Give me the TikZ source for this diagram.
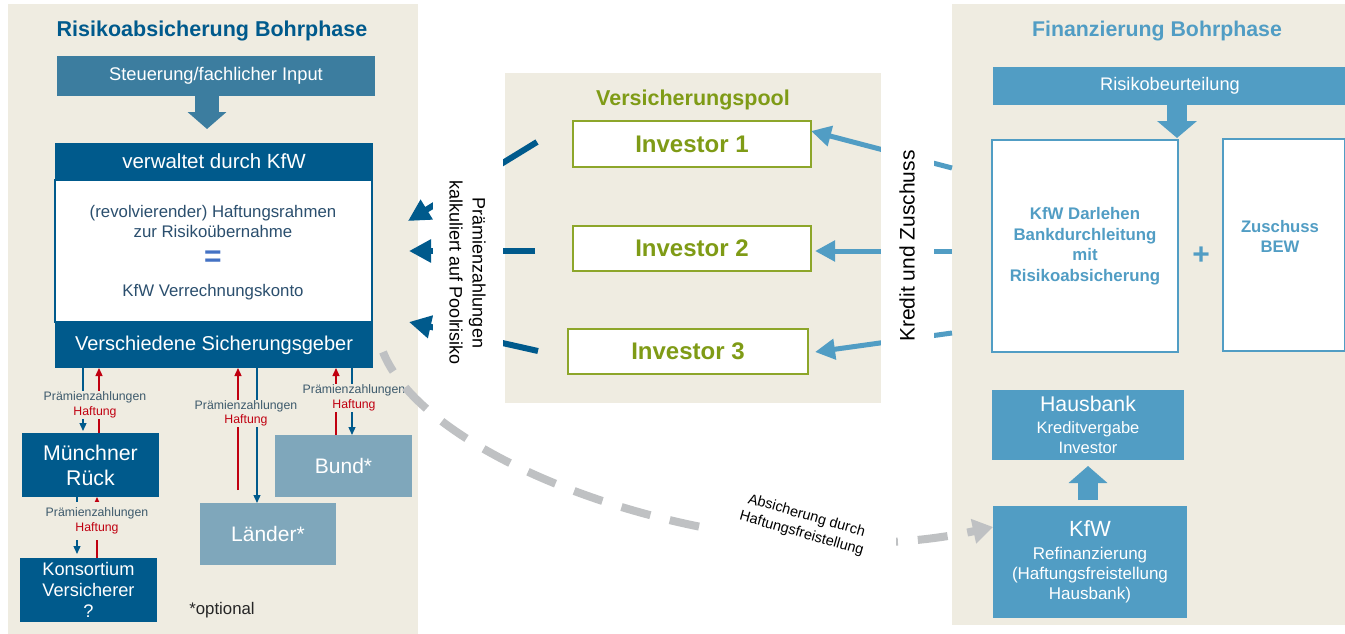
\documentclass[tikz,border=0pt]{standalone}
\usepackage{fontspec}
\setmainfont{Liberation Sans}
\usetikzlibrary{arrows.meta}
\definecolor{bg}{HTML}{EFECE1}
\definecolor{dblue}{HTML}{005A8C}
\definecolor{steel}{HTML}{3C7D9F}
\definecolor{gblue}{HTML}{7FA7BB}
\definecolor{lblue}{HTML}{519DC4}
\definecolor{pgreen}{HTML}{7F9B16}
\definecolor{pborder}{HTML}{8DA62A}
\definecolor{btext}{HTML}{2B4F6E}
\definecolor{eqblue}{HTML}{4472C4}
\definecolor{ptext}{HTML}{3D5A6C}
\definecolor{hred}{HTML}{C00010}
\definecolor{dgray}{HTML}{BFC1C3}
\newcommand\fsz[2]{\fontsize{#1}{#2}\selectfont}
\tikzset{
  box/.style={rectangle, inner sep=0pt, outer sep=0pt, anchor=center},
  dbox/.style={box, fill=dblue, text=white},
  gbox/.style={box, fill=gblue, text=white},
  lbox/.style={box, fill=lblue, text=white},
  invbox/.style={box, fill=white, draw=pborder, line width=1.5pt, text=pgreen, font=\fsz{24}{28}\bfseries},
  ba/.style={draw=dblue, line width=1.3pt, -{Triangle[length=8pt,width=7pt]}},
  ra/.style={draw=hred, line width=1.3pt, -{Triangle[length=8pt,width=7pt]}},
  plbl/.style={fill=bg, inner sep=1pt, align=center, font=\fsz{12.3}{14.5}},
  poolarr/.style={draw=dblue, line width=6pt, -{Triangle[length=22pt,width=22pt]}},
  finarr/.style={draw=lblue, line width=5pt, -{Triangle[length=20pt,width=20pt]}},
}
\begin{document}
\begin{tikzpicture}[x=1pt,y=-1pt]
\useasboundingbox (0,0) rectangle (1345,634);
\fill[white] (0,0) rectangle (1345,634);
% panels
\fill[bg] (8,4) rectangle (418,634);
\fill[bg] (505,73) rectangle (881,403);
\fill[bg] (952,4) rectangle (1345,625);

% ---------- left panel
\node[text=dblue, font=\fsz{21.5}{25}\bfseries] (ltitle) at (212,31) {Risikoabsicherung Bohrphase};
\node[box, fill=steel, text=white, minimum width=318pt, minimum height=40pt, font=\fsz{18.3}{21}] (steu) at (216,76) {Steuerung/fachlicher Input};
\node[box, fill=white, draw=dblue, line width=1.5pt, minimum width=317pt, minimum height=142pt] (kfwbody) at (213.5,251) {};
\node[dbox, minimum width=318pt, minimum height=37pt, font=\fsz{20.5}{24}] (kfwhead) at (214,161.5) {verwaltet durch KfW};
\node[dbox, minimum width=318pt, minimum height=46pt, font=\fsz{20}{24}] (sg) at (214,345) {Verschiedene Sicherungsgeber};
\draw[steel, line width=24pt, -{Triangle[length=17pt,width=38pt]}, shorten >=14pt] (steu.south -| 207,0) -- (kfwhead.north -| 207,0);
\node[text=btext, align=center, font=\fsz{16.8}{19.5}] (haft) at (213,221.5) {(revolvierender) Haftungsrahmen\\zur Risikoübernahme};
\node[text=eqblue, font=\fsz{30}{32}\bfseries] (eq) at (213,259) {=};
\node[text=btext, font=\fsz{16.8}{19}] (konto) at (213,292) {KfW Verrechnungskonto};

\node[dbox, minimum width=137pt, minimum height=64pt, align=center, font=\fsz{21.3}{25}] (mr) at (90.5,465) {Münchner\\Rück};
\node[dbox, minimum width=137pt, minimum height=64pt, align=center, font=\fsz{18.2}{21}] (kons) at (88.5,590) {Konsortium\\Versicherer\\?};
\node[gbox, minimum width=136pt, minimum height=62pt, font=\fsz{21}{24}] (laender) at (268,534) {Länder*};
\node[gbox, minimum width=137pt, minimum height=62pt, font=\fsz{21}{24}] (bund) at (343.5,466) {Bund*};
\node[font=\fsz{16.8}{19}, text=black!85] (opt) at (222,610) {*optional};

\draw[ba, shorten >=2pt] (sg.south -| 83,0) -- (mr.north -| 83,0);
\draw[ra] (mr.north -| 99,0) -- (sg.south -| 99,0);
\draw[ba, shorten >=4pt] (mr.south -| 77,0) -- (kons.north -| 77,0);
\draw[ra] (kons.north -| 97,0) -- (mr.south -| 97,0);
\draw[ba] (sg.south -| 257,0) -- (laender.north -| 257,0);
\draw[ra, shorten <=13pt] (laender.north -| 238,0) -- (sg.south -| 238,0);
\draw[ba] (sg.south -| 352,0) -- (bund.north -| 352,0);
\draw[ra] (bund.north -| 336,0) -- (sg.south -| 336,0);

\node[plbl] (l1) at (95,405) {\textcolor{ptext}{Prämienzahlungen}\\\textcolor{hred}{Haftung}};
\node[plbl, minimum height=38pt] (l2) at (97,521) {\textcolor{ptext}{Prämienzahlungen}\\\textcolor{hred}{Haftung}};
\node[plbl] (l3) at (246,413.5) {\textcolor{ptext}{Prämienzahlungen}\\\textcolor{hred}{Haftung}};
\node[plbl] (l4) at (354,398) {\textcolor{ptext}{Prämienzahlungen}\\\textcolor{hred}{Haftung}};

% ---------- pool
\node[text=pgreen, font=\fsz{21.5}{25}\bfseries] (ptitle) at (693,100) {Versicherungspool};
\node[invbox, minimum width=238pt, minimum height=46pt] (inv1) at (692,144) {Investor 1};
\node[invbox, minimum width=238pt, minimum height=45pt] (inv2) at (692,248.5) {Investor 2};
\node[invbox, minimum width=240pt, minimum height=45pt] (inv3) at (688,351.5) {Investor 3};

\coordinate (p1s) at (537,142); \coordinate (p1e) at (408,221);
\coordinate (p2s) at (535,251); \coordinate (p2e) at (409,251);
\coordinate (p3s) at (538,351); \coordinate (p3e) at (409,322);
\draw[poolarr] (p1s) -- (p1e);
\draw[poolarr] (p2s) -- (p2e);
\draw[poolarr] (p3s) -- (p3e);
\node[box, fill=white, rotate=-90, minimum width=240pt, minimum height=70pt, align=center, font=\fsz{18}{23}] (pzlbl) at (467.5,273) {Prämienzahlungen\\kalkuliert auf Poolrisiko};

% ---------- right panel
\node[text=lblue, font=\fsz{21.3}{25}\bfseries] (rtitle) at (1157,31) {Finanzierung Bohrphase};
\node[lbox, minimum width=352pt, minimum height=38pt] (risk) at (1169,86) {};
\node[text=white, font=\fsz{18.2}{21}] (risktxt) at (1170,86) {Risikobeurteilung};
\node[box, fill=white, draw=lblue, line width=1.6pt, minimum width=186pt, minimum height=212pt, align=center, text=lblue, font=\fsz{16.8}{20.5}\bfseries] (darl) at (1085,246) {KfW Darlehen\\Bankdurchleitung\\mit\\Risikoabsicherung};
\node[box, fill=white, draw=lblue, line width=1.6pt, minimum width=122pt, minimum height=212pt] (bew) at (1284,245) {};
\node[text=lblue, align=center, font=\fsz{16.7}{20}\bfseries] (bewtxt) at (1280,236) {Zuschuss\\BEW};
\node[text=lblue, font=\fsz{30}{32}\bfseries] (plus) at (1201,256) {+};
\draw[lblue, line width=20pt, -{Triangle[length=17pt,width=39pt]}, shorten >=2pt] (risk.south -| 1177,0) -- (darl.north -| 1177,0);

\node[lbox, minimum width=192pt, minimum height=70pt, align=center, font=\fsz{16.5}{20.5}] (haus) at (1088,425) {{\fsz{21.3}{20.5}Hausbank}\\[1pt]Kreditvergabe\\Investor};
\node[lbox, minimum width=194pt, minimum height=112pt, align=center, font=\fsz{17}{20}] (kfw) at (1090,562) {{\fsz{22}{20}KfW}\\[3pt]Refinanzierung\\(Haftungsfreistellung\\Hausbank)};
\draw[lblue, line width=20pt, -{Triangle[length=17pt,width=38pt]}, shorten <=6pt, shorten >=6pt] (kfw.north -| 1088,0) -- (haus.south -| 1088,0);

\coordinate (dgs) at (383,352);
\draw[finarr] (952,168) coordinate (f1s) -- (811,131) coordinate (f1e);
\draw[finarr] (952,251) coordinate (f2s) -- (815,251) coordinate (f2e);
\draw[finarr] (952,333) coordinate (f3s) -- (815,352) coordinate (f3e);
\node[box, fill=white, rotate=90, minimum width=232pt, minimum height=53pt, font=\fsz{21}{24}] (kzlbl) at (907,246) {Kredit und Zuschuss};

% gray dashed curve
\draw[dgray, line width=8pt, dash pattern=on 30pt off 20pt, dash phase=8pt, -{Triangle[length=20pt,width=24pt]}] (dgs) .. controls (430,470) and (750,580) .. (kfw.west |- 0,527);
\fill[white] (711,488) rectangle (896,565);
\node[rotate=-16, align=center, inner sep=2pt, font=\fsz{14.5}{18.5}] (abs) at (804,525) {Absicherung durch\\Haftungsfreistellung};
\end{tikzpicture}
\end{document}
